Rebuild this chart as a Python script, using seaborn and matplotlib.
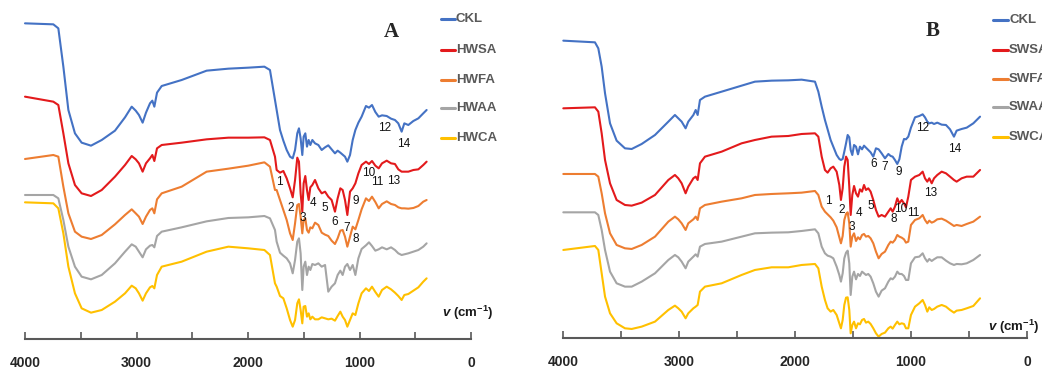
import pandas as pd
import matplotlib.pyplot as plt
from matplotlib.lines import Line2D
import seaborn as sns

# FTIR spectra, transmittance in arbitrary offset units
wavenumber_A = [4000, 3746, 3701, 3656, 3611, 3552, 3492, 3408, 3312, 3193,
                3103, 3043, 3007, 2978, 2945, 2915, 2879, 2858, 2840, 2816,
                2774, 2595, 2371, 2176, 1997, 1853, 1803, 1758,
                1743, 1713, 1683, 1653, 1623, 1599, 1578, 1558, 1543, 1528,
                1513, 1501, 1486, 1471, 1456, 1441, 1423, 1399, 1369, 1339,
                1309, 1280, 1250, 1220, 1196, 1172, 1151, 1130, 1109, 1085,
                1061, 1037, 1010, 981, 942, 915, 888, 858, 828, 798,
                756, 717, 682, 652, 622, 598, 562, 517, 472, 428, 398]

ckl_A = [947, 944, 932, 817, 687, 617, 589, 580, 597, 625,
         665, 697, 685, 672, 649, 679, 707, 715, 697, 739,
         759, 777, 805, 811, 814, 817, 807, 717,
         687, 627, 595, 567, 547, 542, 567, 617, 632, 602,
         552, 607, 617, 577, 597, 582, 597, 587, 582, 567,
         575, 581, 569, 557, 565, 559, 553, 547, 532, 552,
         597, 627, 649, 667, 699, 694, 702, 681, 667, 671,
         669, 661, 657, 647, 622, 647, 642, 654, 662, 677, 687]
hwsa = [727, 712, 702, 617, 527, 462, 437, 429, 447, 487,
        522, 549, 539, 527, 502, 527, 542, 552, 534, 572,
        582, 589, 599, 604, 604, 605, 597, 547,
        507, 499, 504, 482, 452, 425, 477, 544, 532, 437,
        382, 467, 489, 447, 417, 455, 462, 477, 452, 437,
        442, 427, 417, 382, 422, 452, 447, 417, 372, 442,
        452, 467, 497, 522, 532, 525, 534, 520, 512, 527,
        535, 527, 525, 509, 502, 502, 502, 507, 509, 522, 532]
hwfa = [540, 552, 547, 457, 377, 322, 307, 300, 312, 344,
        372, 389, 377, 367, 345, 367, 387, 392, 377, 419,
        437, 457, 502, 511, 520, 530, 517, 447,
        447, 417, 387, 357, 317, 297, 347, 402, 405, 367,
        317, 357, 362, 327, 319, 335, 332, 349, 342, 319,
        313, 309, 295, 285, 302, 325, 327, 307, 277, 307,
        337, 329, 357, 389, 422, 414, 427, 411, 392, 405,
        413, 405, 402, 395, 392, 392, 391, 393, 399, 412, 417]
hwaa = [432, 432, 422, 357, 277, 217, 187, 179, 192, 227,
        262, 284, 277, 262, 245, 269, 280, 282, 275, 309,
        322, 335, 353, 363, 365, 369, 362, 327,
        292, 259, 250, 242, 227, 197, 237, 292, 302, 257,
        147, 217, 232, 192, 217, 207, 225, 222, 227, 217,
        222, 142, 157, 167, 192, 205, 192, 217, 225, 207,
        222, 192, 242, 270, 281, 290, 279, 265, 269, 275,
        269, 275, 267, 257, 252, 254, 257, 262, 267, 277, 287]
hwca = [410, 407, 392, 317, 217, 137, 92, 79, 87, 112,
        137, 160, 152, 137, 115, 137, 155, 159, 152, 192,
        217, 232, 262, 277, 272, 267, 252, 167,
        157, 129, 122, 92, 57, 37, 57, 107, 119, 87,
        47, 97, 99, 67, 77, 59, 67, 59, 59, 65,
        62, 59, 61, 55, 69, 82, 67, 57, 37, 57,
        77, 72, 107, 137, 152, 144, 157, 141, 127, 147,
        157, 149, 139, 129, 117, 132, 135, 145, 155, 172, 182]

wavenumber_B = [4000, 3727, 3698, 3669, 3640, 3597, 3540, 3468, 3410, 3324,
                3209, 3094, 3037, 3008, 2979, 2945, 2922, 2878, 2858, 2841,
                2821, 2778, 2634, 2462, 2347, 2203, 2059, 1944,
                1829, 1800, 1771, 1743, 1720, 1694, 1671, 1642, 1619, 1605,
                1590, 1576, 1561, 1547, 1533, 1521, 1507, 1492, 1475, 1458,
                1441, 1423, 1406, 1389, 1369, 1349, 1326, 1303, 1280, 1254,
                1225, 1196, 1176, 1159, 1139, 1119, 1101, 1081, 1061, 1044,
                1024, 1001, 966, 929, 900, 880, 860, 843, 822, 802,
                774, 736, 699, 664, 630, 607, 564, 520, 463, 405]

ckl_B = [893, 888, 870, 815, 735, 645, 593, 570, 568, 583,
         610, 650, 670, 660, 650, 630, 650, 670, 685, 670,
         715, 725, 740, 758, 770, 773, 774, 776,
         770, 740, 695, 655, 627, 595, 575, 550, 538, 535,
         538, 560, 585, 610, 603, 565, 550, 580, 575, 552,
         575, 567, 578, 572, 565, 558, 545, 570, 567, 555,
         540, 553, 547, 545, 535, 523, 537, 575, 598, 597,
         605, 632, 663, 667, 672, 663, 650, 645, 647, 643,
         647, 641, 640, 627, 605, 623, 628, 632, 645, 665]
swsa = [690, 693, 680, 615, 535, 465, 415, 400, 398, 407,
        430, 475, 490, 480, 465, 435, 455, 480, 485, 475,
        525, 545, 560, 585, 595, 605, 607, 613,
        615, 605, 545, 505, 497, 510, 515, 500, 460, 415,
        450, 515, 545, 535, 455, 370, 430, 457, 435, 425,
        447, 440, 460, 445, 450, 440, 415, 385, 365, 370,
        365, 380, 390, 380, 395, 420, 405, 415, 405, 393,
        425, 475, 485, 490, 500, 480, 470, 480, 465, 480,
        490, 500, 495, 485, 475, 470, 480, 485, 485, 505]
swfa = [493, 493, 485, 435, 375, 315, 280, 270, 268, 280,
        305, 350, 365, 357, 345, 325, 345, 357, 365, 355,
        390, 400, 410, 420, 430, 433, 435, 437,
        442, 430, 395, 380, 372, 363, 353, 333, 303, 285,
        307, 355, 373, 378, 345, 275, 305, 315, 292, 303,
        297, 310, 313, 305, 307, 300, 285, 260, 240, 253,
        260, 280, 290, 287, 295, 310, 305, 302, 297, 287,
        290, 340, 355, 360, 370, 355, 345, 353, 347, 350,
        357, 359, 353, 345, 337, 340, 337, 343, 350, 365]
swaa = [378, 378, 370, 325, 265, 200, 165, 155, 155, 170,
        195, 235, 250, 243, 230, 210, 230, 245, 252, 245,
        275, 283, 290, 305, 315, 317, 318, 322,
        327, 315, 275, 255, 248, 245, 240, 215, 190, 170,
        195, 240, 257, 263, 225, 130, 185, 200, 177, 193,
        187, 200, 195, 190, 193, 185, 165, 140, 125, 143,
        150, 170, 180, 177, 185, 200, 193, 193, 187, 175,
        175, 225, 243, 245, 255, 240, 230, 238, 232, 237,
        243, 243, 233, 225, 220, 223, 222, 225, 235, 250]
swca = [265, 277, 265, 195, 125, 75, 45, 30, 28, 35,
        50, 85, 98, 90, 80, 60, 75, 90, 95, 100,
        140, 155, 165, 190, 205, 213, 213, 220,
        223, 210, 155, 115, 90, 80, 85, 70, 45, 30,
        55, 100, 122, 123, 85, 15, 40, 50, 30, 45,
        42, 55, 58, 47, 50, 43, 30, 15, 5, 13,
        17, 30, 35, 29, 40, 50, 42, 45, 43, 30,
        30, 70, 95, 105, 115, 100, 80, 93, 85, 88,
        95, 100, 95, 85, 77, 83, 85, 90, 97, 120]

names_A = ["CKL", "HWSA", "HWFA", "HWAA", "HWCA"]
names_B = ["CKL", "SWSA", "SWFA", "SWAA", "SWCA"]
colors = ["#4472C4", "#E31A1C", "#ED7D31", "#A5A5A5", "#FFC000"]

# band labels: number, wavenumber, height
peak_ids = [str(i) for i in range(1, 15)]
peak_wn_A = [1719, 1617, 1510, 1420, 1315, 1220, 1115, 1031, 1034, 921, 837, 771, 691, 601]
peak_t_A = [472, 392, 362, 409, 392, 352, 334, 299, 414, 497, 472, 632, 474, 584]
peak_wn_B = [1714, 1599, 1513, 1446, 1349, 1320, 1225, 1147, 1110, 1090, 981, 903, 828, 621]
peak_t_B = [412, 385, 335, 375, 397, 523, 515, 358, 500, 388, 377, 632, 435, 568]

sns.set_theme(style="white")
plt.rcParams["font.family"] = ["Liberation Sans", "DejaVu Sans"]
plt.rcParams["mathtext.fontset"] = "custom"
plt.rcParams["mathtext.it"] = "Liberation Sans:italic:bold"
plt.rcParams["mathtext.rm"] = "Liberation Sans:bold"

W, H = 1042, 372
fig = plt.figure(figsize=(W / 100, H / 100), dpi=100)
axA = fig.add_axes([25 / W, 33 / H, 446 / W, 339 / H])
axB = fig.add_axes([563.3 / W, 33.7 / H, 463.7 / W, 338.3 / H])


def long_df(wn, series, names):
    frames = [pd.DataFrame({"wavenumber": wn, "T": s, "sample": n})
              for s, n in zip(series, names)]
    return pd.concat(frames, ignore_index=True)


panels = [
    (axA, long_df(wavenumber_A, [ckl_A, hwsa, hwfa, hwaa, hwca], names_A), names_A,
     1017, peak_wn_A, peak_t_A),
    (axB, long_df(wavenumber_B, [ckl_B, swsa, swfa, swaa, swca], names_B), names_B,
     1015, peak_wn_B, peak_t_B),
]

for ax, df, names, ytop, pwn, pt in panels:
    sns.lineplot(data=df, x="wavenumber", y="T", hue="sample", hue_order=names,
                 palette=colors, estimator=None, sort=False, linewidth=1.5,
                 legend=False, ax=ax)
    ax.set_xlim(4000, 0)
    ax.set_ylim(0, ytop)
    ax.set_xlabel("")
    ax.set_ylabel("")
    ax.set_yticks([])
    ax.set_xticks([0, 1000, 2000, 3000, 4000])
    ax.set_xticklabels(["0", "1000", "2000", "3000", "4000"], fontsize=10, fontweight="bold",
                       color="#262626")
    ax.set_xticks([500, 1500, 2500, 3500], minor=True)
    ax.tick_params(axis="x", which="both", direction="in", length=5, width=1.2,
                   color="#595959", pad=12, bottom=True)
    sns.despine(ax=ax, left=True)
    ax.spines["bottom"].set_color("#595959")
    ax.spines["bottom"].set_linewidth(1.5)
    for lab, x, y in zip(peak_ids, pwn, pt):
        ax.text(x, y, lab, fontsize=8.5, ha="center", va="center", color="#111111")
    for line in ax.lines:
        line.set_clip_on(False)

# panel letters
fig.text(391 / W, 1 - 32 / H, "A", family="Liberation Serif", fontweight="bold",
         fontsize=15, ha="center", va="center")
fig.text(932.5 / W, 1 - 31 / H, "B", family="Liberation Serif", fontweight="bold",
         fontsize=15, ha="center", va="center")

# axis titles
vlabel = r"$\mathit{v}$ (cm$^{-1}$)"
fig.text(493 / W, 1 - 313 / H, vlabel, fontsize=9.5, fontweight="bold",
         ha="right", va="center", color="#1a1a1a")
fig.text(1039 / W, 1 - 327 / H, vlabel, fontsize=9.5, fontweight="bold",
         ha="right", va="center", color="#1a1a1a")

# legends
leg_y_A = [19, 50, 80, 108, 138]
leg_y_B = [20, 50, 79, 107, 137]
for (x0, x1, xt, ys, names) in [(440.7, 455, 456, leg_y_A, names_A),
                                (993.3, 1008.3, 1009, leg_y_B, names_B)]:
    for y, n, c in zip(ys, names, colors):
        fig.add_artist(Line2D([x0 / W, x1 / W], [1 - y / H, 1 - y / H],
                              color=c, linewidth=2.2, transform=fig.transFigure))
        fig.text(xt / W, 1 - y / H, n, fontsize=9.5, fontweight="bold",
                 color="#595959", ha="left", va="center")

plt.savefig("out.png", dpi=100)
